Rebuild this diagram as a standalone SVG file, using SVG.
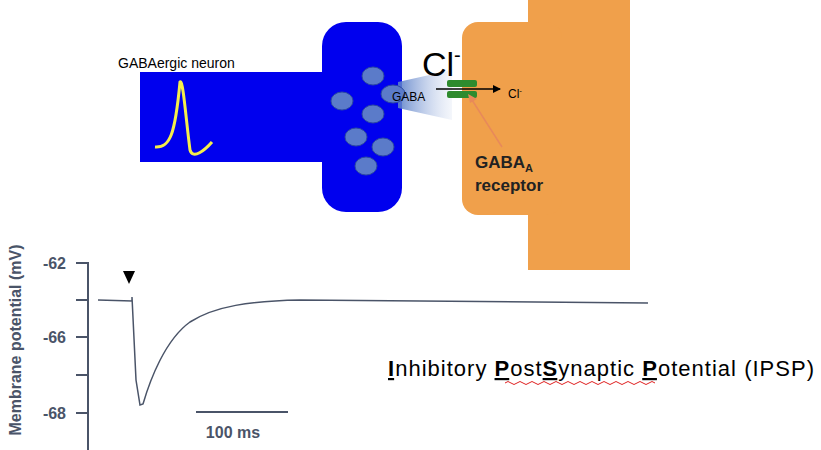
<svg xmlns="http://www.w3.org/2000/svg" width="821" height="450" viewBox="0 0 821 450">
<defs>
<linearGradient id="cone" x1="0" y1="0" x2="1" y2="0"><stop offset="0" stop-color="#5a7fc8" stop-opacity="0.9"/><stop offset="1" stop-color="#c8d4ec" stop-opacity="0.2"/></linearGradient>
<marker id="ah" markerWidth="8" markerHeight="8" refX="7" refY="4" orient="auto" markerUnits="userSpaceOnUse"><path d="M0,0 L8,4 L0,8 z" fill="#000"/></marker>
<style>.ves{fill:#5b7bc9;stroke:#2d4aa0;stroke-width:1}.ax{stroke:#4a5468;stroke-width:2;fill:none}.tl{font-family:"Liberation Sans",Arial,sans-serif;font-weight:bold;fill:#4a5468;font-size:16px}.rc{font-family:"Liberation Sans",Arial,sans-serif;font-size:17px;font-weight:bold;fill:#222}</style>
</defs>
<rect width="821" height="450" fill="#fff"/>
<g id="post">
<rect x="528" y="0" width="102" height="270" fill="#f0a04b"/>
<rect x="462" y="22" width="100" height="193" rx="16" fill="#f0a04b"/>
</g>
<g id="neuron">
<rect x="140" y="72" width="200" height="90" fill="#0000ee"/>
<rect x="322" y="22" width="80" height="190" rx="24" fill="#0000ee"/>
<path d="M155,147 C170,148 175,135 180,82 C183,78 186,120 190,150 C193,160 205,150 212,142" fill="none" stroke="#f5ee4a" stroke-width="3"/>
<text x="118" y="68" font-family="Liberation Sans,Arial,sans-serif" font-size="14">GABAergic neuron</text>
<ellipse class="ves" cx="373" cy="76" rx="11" ry="9"/>
<ellipse class="ves" cx="342" cy="101" rx="11" ry="9"/>
<ellipse class="ves" cx="373" cy="114" rx="11" ry="9"/>
<ellipse class="ves" cx="356" cy="137" rx="11" ry="9"/>
<ellipse class="ves" cx="383" cy="147" rx="11" ry="9"/>
<ellipse class="ves" cx="366" cy="166" rx="11" ry="9"/>
</g>
<g id="cleft">
<polygon points="398,82 452,70 452,120 398,108" fill="url(#cone)"/>
<ellipse class="ves" cx="393" cy="94" rx="12" ry="9"/>
<text x="392" y="101" font-family="Liberation Sans,Arial,sans-serif" font-size="12">GABA</text>
<text x="422" y="76" font-family="Liberation Sans,Arial,sans-serif" font-size="34">Cl<tspan font-size="20" dy="-14">-</tspan></text>
</g>
<g id="receptor">
<rect x="447" y="80" width="30" height="7" rx="2" fill="#2e8b2e"/>
<rect x="447" y="91" width="30" height="7" rx="2" fill="#2e8b2e"/>
<text class="rc" x="475" y="168">GABA<tspan font-size="11" dy="4">A</tspan></text>
<text class="rc" x="475" y="191">receptor</text>
<text x="508" y="98" font-family="Liberation Sans,Arial,sans-serif" font-size="12">Cl<tspan font-size="8" dy="-5">-</tspan></text>
</g>
<g id="connectors">
<line x1="436" y1="89" x2="500" y2="89" stroke="#000" stroke-width="1.3" marker-end="url(#ah)"/>
<line x1="502" y1="147" x2="472" y2="100" stroke="#e8895a" stroke-width="1.5"/>
<polygon points="468,94 477,99 470,103" fill="#e8895a"/>
</g>
<g id="plot">
<line class="ax" x1="88" y1="262" x2="88" y2="450"/>
<line class="ax" x1="76" y1="263" x2="88" y2="263"/>
<line class="ax" x1="76" y1="300" x2="88" y2="300"/>
<line class="ax" x1="76" y1="337" x2="88" y2="337"/>
<line class="ax" x1="76" y1="375" x2="88" y2="375"/>
<line class="ax" x1="76" y1="413" x2="88" y2="413"/>
<text class="tl" x="66" y="269" text-anchor="end">-62</text>
<text class="tl" x="66" y="343" text-anchor="end">-66</text>
<text class="tl" x="66" y="419" text-anchor="end">-68</text>
<text class="tl" transform="translate(21,340) rotate(-90)" text-anchor="middle" font-size="15">Membrane potential (mV)</text>
<polygon points="123,271 135,271 129,284" fill="#000"/>
<path d="M98,300 L132,301 L132,297 L136,380 L140,405 L143,404 C150,380 165,340 190,322 C215,306 250,301 300,300 L648,303" fill="none" stroke="#4a5468" stroke-width="1.5"/>
<line class="ax" x1="196" y1="412" x2="288" y2="412"/>
<text class="tl" x="233" y="438" text-anchor="middle">100 ms</text>
</g>
<text x="388" y="376" font-family="Liberation Sans,Arial,sans-serif" font-size="22" textLength="426" lengthAdjust="spacing"><tspan font-weight="bold" text-decoration="underline">I</tspan>nhibitory <tspan font-weight="bold" text-decoration="underline">P</tspan>ost<tspan font-weight="bold" text-decoration="underline">S</tspan>ynaptic <tspan font-weight="bold" text-decoration="underline">P</tspan>otential (IPSP)</text>
<path d="M505,383 q3,-3 6,0 t6,0 t6,0 t6,0 t6,0 t6,0 t6,0 t6,0 t6,0 t6,0 t6,0 t6,0 t6,0 t6,0 t6,0 t6,0 t6,0 t6,0 t6,0 t6,0 t6,0 t6,0 t6,0 t6,0 t6,0" fill="none" stroke="#e02020" stroke-width="1"/>
</svg>
